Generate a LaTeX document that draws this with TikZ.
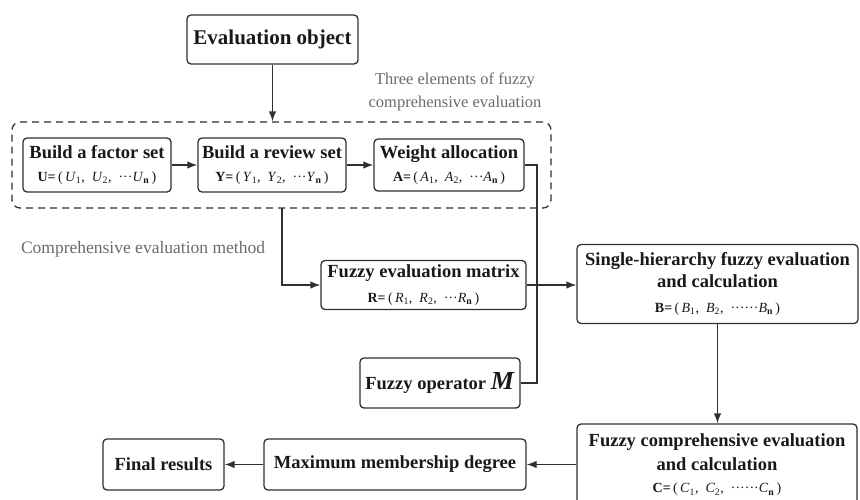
\documentclass[tikz,border=0pt]{standalone}
\usepackage{fontspec}
\setmainfont{Liberation Serif}
\usetikzlibrary{arrows.meta}
\definecolor{linegray}{HTML}{303030}
\definecolor{notegray}{HTML}{6A6A6A}
\newcommand\elemtuple[2]{\textbf{#1=}\,(\,\textit{#1}\textsubscript{1},\enspace\textit{#1}\textsubscript{2},\enspace#2\textit{#1}\textsubscript{\textbf{n}}\,)}
\newcommand\subsize{\fontsize{14}{16}\selectfont\mdseries}

\begin{document}
\begin{tikzpicture}[x=1pt,y=-1pt,
    box/.style={draw=linegray,line width=1.3pt,rounded corners=4pt,align=center,
      inner sep=0pt,text=black!90,font=\fontsize{18.5}{22}\selectfont\bfseries},
    note/.style={text=notegray,align=center,font=\fontsize{16.5}{23}\selectfont},
    >={Latex[length=10pt,width=7.5pt]}]
    \useasboundingbox (0,0) rectangle (860,499);
    \clip (0,0) rectangle (860,499);

    % three elements
    \node[draw=linegray,line width=1.3pt,dash pattern=on 7pt off 5pt,rounded corners=8pt,
      minimum width=539pt,minimum height=86pt] (elements) at (281.5,165) {};
    \node[box,minimum width=148pt,minimum height=54pt] (factor) at (97,165)
      {Build a factor set\\[1pt]{\subsize\elemtuple{U}{···}}};
    \node[box,minimum width=148pt,minimum height=54pt] (review) at (272,165)
      {Build a review set\\[1pt]{\subsize\elemtuple{Y}{···}}};
    \node[box,minimum width=150pt,minimum height=52pt] (weight) at (449,165)
      {Weight allocation\\[1pt]{\subsize\elemtuple{A}{···}}};

    % other boxes
    \node[box,minimum width=171pt,minimum height=49pt,font=\fontsize{21}{24}\selectfont\bfseries]
      (eo) at (272.5,39.5) {Evaluation object};
    \node[box,minimum width=205pt,minimum height=49pt] (matrix) at (423.5,285)
      {Fuzzy evaluation matrix\\[3pt]{\subsize\elemtuple{R}{···}}};
    \node[box,minimum width=160pt,minimum height=50pt] (operator) at (440,383)
      {Fuzzy operator {\fontsize{26}{26}\selectfont\textit{M}}};
    \node[box,minimum width=281pt,minimum height=79pt] (single) at (717.5,284)
      {Single-hierarchy fuzzy evaluation\\and calculation\\[3pt]{\subsize\elemtuple{B}{······}}};
    \node[box,minimum width=280pt,minimum height=82pt] (comp) at (717,465)
      {Fuzzy comprehensive evaluation\\[2pt]and calculation\\{\subsize\elemtuple{C}{······}}};
    \node[box,minimum width=262pt,minimum height=51pt] (maxdeg) at (395,464.5)
      {Maximum membership degree};
    \node[box,minimum width=121pt,minimum height=51pt] (final) at (163.5,464.5)
      {Final results};

    % notes
    \node[note] (elnote) at (455,91.5) {Three elements of fuzzy\\comprehensive evaluation};
    \node[note,font=\fontsize{17.5}{23}\selectfont] (cmnote) at (143,249)
      {Comprehensive evaluation method};

    % connectors
    \begin{scope}[draw=linegray,line width=1.3pt]
      \draw[->] (eo) -- (eo |- elements.north);
      \draw[->] (factor.east) -- (factor.east -| review.west);
      \draw[->] (review.east) -- (review.east -| weight.west);
      \coordinate (wturn) at (537,165);
      \draw (weight.east) -- (wturn) |- (operator.east);
      \coordinate (cmtop) at (282,208);
      \draw[->] (cmtop) |- (matrix.west);
      \draw[->] (matrix.east) -- (matrix.east -| single.west);
      \draw[->] (single.south) -- (single.south |- comp.north);
      \draw[->] (maxdeg -| comp.west) -- (maxdeg.east);
      \draw[->] (maxdeg.west) -- (final.east);
    \end{scope}
  \end{tikzpicture}
\end{document}
